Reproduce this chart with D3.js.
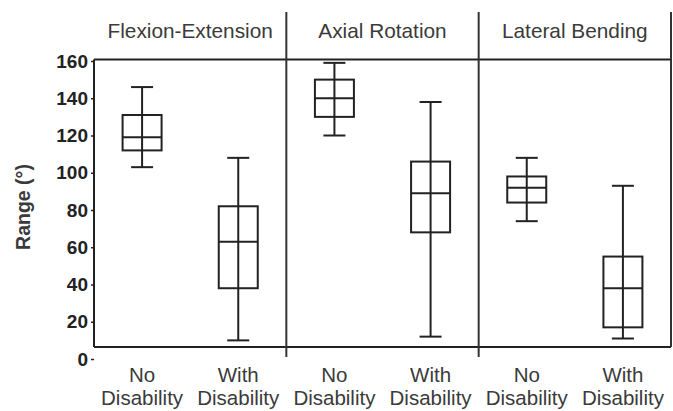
<!DOCTYPE html>
<html>
<head>
<meta charset="utf-8">
<script src="https://cdn.jsdelivr.net/npm/d3@7"></script>
<style>
  body { margin: 0; background: #fff; }
  svg { display: block; font-family: "Liberation Sans", Arial, sans-serif; }
</style>
</head>
<body>
<svg id="chart" width="673" height="411"></svg>
<script>
const panels = ['Flexion-Extension', 'Axial Rotation', 'Lateral Bending'];
const groups = ['No Disability', 'With Disability'];
const yTicks = [0, 20, 40, 60, 80, 100, 120, 140, 160];

// one entry per panel: [no disability, with disability]
const whiskerMin = [[103, 10], [120, 12], [74, 11]];
const q1 = [[112, 38], [130, 68], [84, 17]];
const median = [[119, 63], [140, 89], [92, 38]];
const q3 = [[131, 82], [150, 106], [98, 55]];
const whiskerMax = [[146, 108], [159, 138], [108, 93]];

const svg = d3.select('#chart');
const plotL = 94, plotR = 671, plotT = 59.5, plotB = 347;

const x = d3.scaleBand().domain(panels).range([plotL, plotR]);
const xIn = d3.scalePoint().domain(groups).range([0, x.bandwidth()]).padding(0.5);
const y = d3.scaleLinear().domain([0, 160]).range([359, 61]);

const ink = '#222';
const textCol = '#3a3a3a';
const boxW = 39, capW = 22;

// frame
svg.append('line').attr('x1', plotL).attr('x2', plotR).attr('y1', plotT).attr('y2', plotT)
  .attr('stroke', ink).attr('stroke-width', 2);
svg.append('line').attr('x1', plotL).attr('x2', plotR).attr('y1', plotB).attr('y2', plotB)
  .attr('stroke', ink).attr('stroke-width', 2);
svg.append('line').attr('x1', plotL).attr('x2', plotL).attr('y1', plotT).attr('y2', plotB)
  .attr('stroke', ink).attr('stroke-width', 2);

panels.forEach((p, i) => {
  const xr = x(p) + x.bandwidth();
  svg.append('line').attr('x1', xr).attr('x2', xr).attr('y1', 12)
    .attr('y2', i < panels.length - 1 ? 357 : plotB)
    .attr('stroke', '#333').attr('stroke-width', 2);
  svg.append('text').attr('x', x(p) + x.bandwidth() / 2).attr('y', 38)
    .attr('text-anchor', 'middle').attr('font-size', 20.8).attr('fill', textCol)
    .text(p);
});

// y axis
const yAxis = svg.append('g').attr('transform', `translate(${plotL},0)`)
  .call(d3.axisLeft(y).tickValues(yTicks).tickSize(3).tickPadding(3));
yAxis.select('.domain').remove();
yAxis.selectAll('line').attr('stroke', ink).attr('stroke-width', 1.5);
yAxis.selectAll('text').attr('font-size', 19).attr('font-weight', 'bold')
  .attr('fill', ink).attr('font-family', '"Liberation Sans", Arial, sans-serif');

svg.append('text')
  .attr('transform', 'translate(30,207) rotate(-90)')
  .attr('text-anchor', 'middle').attr('font-size', 19.5).attr('font-weight', 'bold')
  .attr('fill', textCol).text('Range (°)');

// boxes
panels.forEach((p, i) => {
  groups.forEach((g, j) => {
    const cx = x(p) + xIn(g);
    const gEl = svg.append('g').attr('stroke', ink).attr('stroke-width', 2).attr('fill', 'none');
    gEl.append('line').attr('x1', cx).attr('x2', cx)
      .attr('y1', y(whiskerMin[i][j])).attr('y2', y(whiskerMax[i][j]));
    [whiskerMin[i][j], whiskerMax[i][j]].forEach(v => {
      gEl.append('line').attr('x1', cx - capW / 2).attr('x2', cx + capW / 2)
        .attr('y1', y(v)).attr('y2', y(v));
    });
    gEl.append('rect').attr('x', cx - boxW / 2).attr('width', boxW)
      .attr('y', y(q3[i][j])).attr('height', y(q1[i][j]) - y(q3[i][j]));
    gEl.append('line').attr('x1', cx - boxW / 2).attr('x2', cx + boxW / 2)
      .attr('y1', y(median[i][j])).attr('y2', y(median[i][j]));

    const [w1, w2] = g.split(' ');
    const t = svg.append('text').attr('text-anchor', 'middle').attr('font-size', 20.5).attr('fill', textCol);
    t.append('tspan').attr('x', cx).attr('y', 382).text(w1);
    t.append('tspan').attr('x', cx).attr('y', 405).text(w2);
  });
});
</script>
</body>
</html>
